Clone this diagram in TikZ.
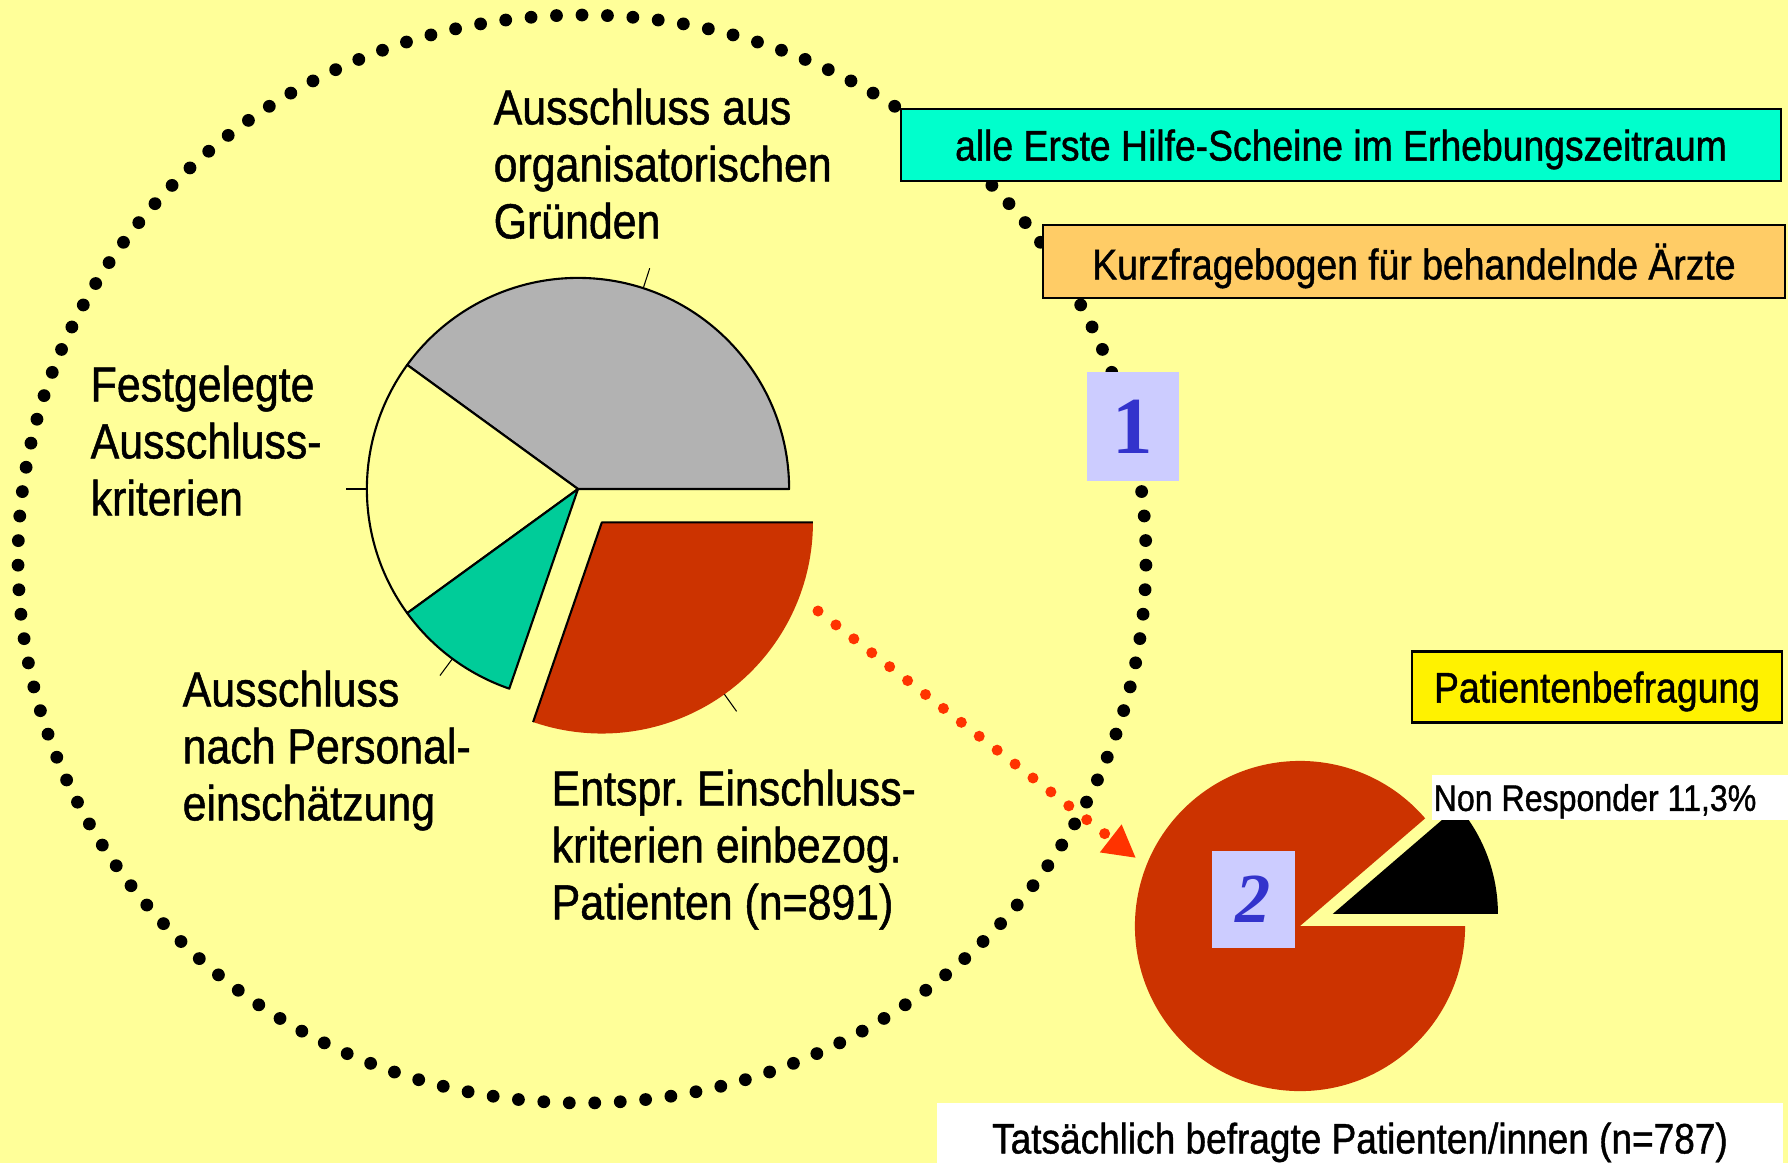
\documentclass[tikz,border=0pt]{standalone}
\usepackage{fontspec}
\setmainfont[FakeStretch=0.87,FakeBold=1]{Liberation Sans}
\newfontfamily\numfont{Liberation Serif}
\usetikzlibrary{arrows.meta}
\definecolor{bgyellow}{HTML}{FFFF99}
\definecolor{pgray}{HTML}{B2B2B2}
\definecolor{pgreen}{HTML}{00CC99}
\definecolor{pred}{HTML}{CC3300}
\definecolor{boxcyan}{HTML}{00FFCC}
\definecolor{boxorange}{HTML}{FFCC66}
\definecolor{lavender}{HTML}{CCCCFF}
\definecolor{numblue}{HTML}{3333CC}
\definecolor{arrowred}{HTML}{FF3300}
\begin{document}
\frenchspacing
\begin{tikzpicture}[x=0.01cm,y=-0.01cm,
  slicelabel/.style={anchor=north west,inner sep=0pt,align=left,font=\fontsize{14}{16.2}\selectfont},
  infobox/.style={draw=black,line width=0.6pt,inner sep=0pt,text depth=0pt,font=\fontsize{12.2}{14}\selectfont},
  numbox/.style={fill=lavender,inner sep=0pt,text=numblue,font=\numfont\bfseries\fontsize{23}{25}\selectfont},
  wedge/.style={draw=black,line width=0.6pt,line join=round},
  tickline/.style={line width=0.3pt}]
 \useasboundingbox (0,0) rectangle (1788,1163);
 \fill [bgyellow] (0,0) rectangle (1788,1163);
 \foreach \i in {0,...,138}{
    \fill ({582+564*cos(\i/139*360-90)},{559+544*sin(\i/139*360-90)}) circle (0.064cm);
 }
 % first pie
 \coordinate (pone) at (578,489);
 \filldraw [wedge,fill=pgray] (pone) -- ++(0:2.11cm) arc[start angle=0,end angle=144,radius=2.11cm] -- cycle;
 \filldraw [wedge,fill=bgyellow] (pone) -- ++(144:2.11cm) arc[start angle=144,end angle=216,radius=2.11cm] -- cycle;
 \filldraw [wedge,fill=pgreen] (pone) -- ++(216:2.11cm) arc[start angle=216,end angle=251,radius=2.11cm] -- cycle;
 \coordinate (redc) at ([shift={(305.5:0.41cm)}]pone);
 \fill [pred] (redc) -- ++(251:2.11cm) arc[start angle=251,end angle=360,radius=2.11cm] -- cycle;
 \draw [wedge] (redc) ++(251:2.11cm) -- (redc) -- ++(0:2.11cm);
 \foreach \a in {72,180,233.5}{
    \draw [tickline] ([shift={(\a:2.11cm)}]pone) -- ([shift={(\a:2.32cm)}]pone);
 }
 \draw [tickline] ([shift={(305.5:2.11cm)}]redc) -- ([shift={(305.5:2.32cm)}]redc);
 \node [slicelabel] (orga) at (493,88) {Ausschluss aus\\organisatorischen\\Gründen};
 \node [slicelabel] (fest) at (90,365) {Festgelegte\\Ausschluss-\\kriterien};
 \node [slicelabel] (pers) at (182,670) {Ausschluss\\nach Personal-\\einschätzung};
 \node [slicelabel] (einb) at (551,769) {Entspr.\ Einschluss-\\kriterien einbezog.\\Patienten (n=891)};
 % boxes
 \node [infobox,fill=boxcyan,minimum width=8.8cm,minimum height=0.72cm] (erste) at (1341,145) {alle Erste Hilfe-Scheine im Erhebungszeitraum};
 \node [infobox,fill=boxorange,minimum width=7.42cm,minimum height=0.73cm] (kurz) at (1414,261.5) {Kurzfragebogen für behandelnde Ärzte};
 \node [numbox,minimum width=0.92cm,minimum height=1.09cm] (one) at (1133,426.5) {1};
 \node [infobox,fill=yellow,minimum width=3.69cm,minimum height=0.71cm] (befr) at (1597,687) {Patientenbefragung};
 % second pie
 \coordinate (ptwo) at (1300,926);
 \fill [pred] (ptwo) -- ++(40.7:1.65cm) arc[start angle=40.7,end angle=360,radius=1.65cm] -- cycle;
 \coordinate (nonc) at ([shift={(20.35:0.35cm)}]ptwo);
 \fill [black] (nonc) -- ++(0:1.65cm) arc[start angle=0,end angle=40.7,radius=1.65cm] -- cycle;
 \node [fill=white,anchor=west,inner xsep=0.02cm,inner ysep=0pt,text depth=0pt,minimum height=0.45cm,font=\fontsize{10.5}{12}\selectfont] (nonresp) at (1431,797.5) {\makebox[3.53cm][l]{Non Responder 11,3\%}};
 \node [numbox,font=\numfont\bfseries\itshape\fontsize{20}{22}\selectfont,minimum width=0.83cm,minimum height=0.97cm] (two) at (1253.5,899.5) {2};
 \node [fill=white,inner sep=0pt,text depth=0pt,minimum width=8.45cm,minimum height=0.70cm,font=\fontsize{12.1}{14}\selectfont] (befragt) at (1360,1138) {Tatsächlich befragte Patienten/innen (n=787)};
 % arrow
 \coordinate (arrstart) at (818,611);
 \coordinate (arrend) at (1136,858);
 \draw [arrowred,line width=0.11cm,line cap=round,dash pattern=on 0pt off 0.2267cm,-{Triangle[length=0.32cm,width=0.33cm]}] (arrstart) -- (arrend);
\end{tikzpicture}
\end{document}
